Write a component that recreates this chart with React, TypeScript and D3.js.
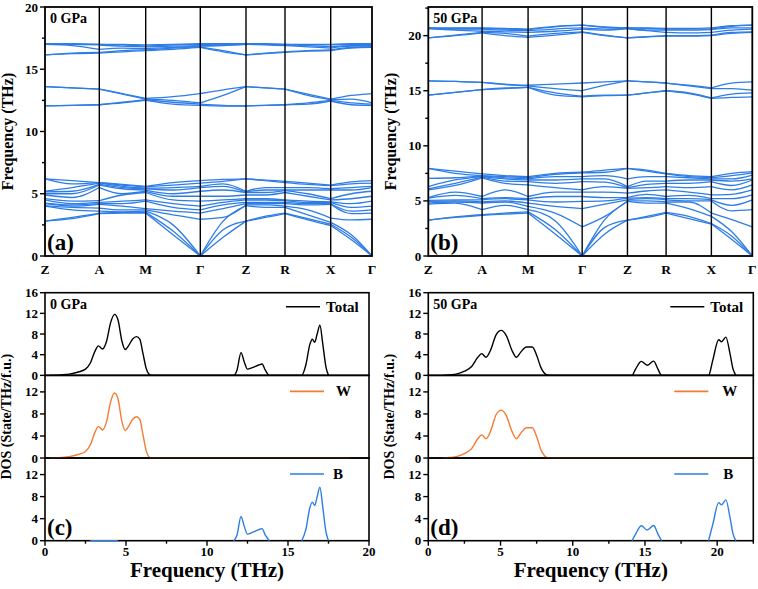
import React from 'react';
import * as d3 from 'd3';

const FONT = '"Liberation Serif", "Times New Roman", serif';
const BLUE = '#2e7de6';
const ORANGE = '#f47b30';

// high-symmetry path and its relative segment lengths
const kLabels = ['Z', 'A', 'M', 'Γ', 'Z', 'R', 'X', 'Γ'];
const kPath = [0, 54.3, 100.7, 155.3, 201, 240, 285.7, 327];

// bands, one row per sample point: Z, Z-A, A, A-M, M, M-Γ, Γ, Γ-Z, Z, Z-R, R, R-X, X, X-Γ, Γ
const low0 = [
  [2.8, 2.8, 4.0, 4.05, 4.2, 4.25, 4.5, 4.6, 4.9, 5.0, 5.15, 5.2, 6.2, 6.2],
  [3.0, 3.1, 3.7, 3.9, 4.0, 4.1, 4.2, 4.4, 4.7, 5.0, 5.2, 5.5, 5.8, 6.05],
  [3.4, 3.45, 3.6, 3.85, 4.15, 4.2, 4.3, 4.45, 5.5, 5.7, 5.75, 5.85, 5.9, 5.9],
  [3.45, 3.5, 3.55, 3.7, 4.0, 4.2, 4.4, 4.9, 5.0, 5.4, 5.5, 5.6, 5.7, 5.75],
  [3.45, 3.5, 3.6, 3.7, 3.8, 4.4, 4.5, 5.1, 5.2, 5.3, 5.4, 5.45, 5.55, 5.6],
  [1.7, 2.0, 2.5, 3.3, 3.6, 3.9, 4.2, 4.5, 4.8, 5.0, 5.3, 5.5, 5.7, 5.9],
  [0, 0, 0, 2.95, 3.45, 3.7, 4.0, 4.4, 4.8, 5.2, 5.5, 5.6, 5.85, 6.05],
  [1.5, 2.1, 2.8, 3.1, 3.8, 4.1, 4.3, 4.5, 4.8, 5.3, 5.6, 5.8, 6.0, 6.15],
  [2.8, 2.8, 4.05, 4.1, 4.2, 4.3, 4.5, 4.6, 4.9, 5.1, 5.15, 5.2, 6.2, 6.2],
  [3.1, 3.2, 3.9, 4.1, 4.2, 4.3, 4.5, 4.6, 4.9, 5.1, 5.3, 5.5, 6.05, 6.1],
  [3.4, 3.45, 3.9, 4.0, 4.2, 4.3, 4.45, 4.5, 5.1, 5.25, 5.3, 5.5, 5.9, 6.0],
  [2.9, 3.0, 3.3, 3.7, 4.1, 4.2, 4.3, 4.4, 4.8, 5.0, 5.3, 5.5, 5.75, 5.85],
  [2.45, 2.55, 2.7, 3.05, 4.15, 4.2, 4.3, 4.35, 4.5, 4.6, 5.3, 5.4, 5.65, 5.7],
  [1.3, 1.5, 1.7, 2.9, 3.4, 3.6, 3.9, 4.2, 4.6, 5.0, 5.3, 5.5, 5.8, 5.95],
  [0, 0, 0, 2.95, 3.45, 3.7, 4.0, 4.4, 4.8, 5.2, 5.5, 5.6, 5.85, 6.05],
];
const mid0 = [
  [12.05, 12.05, 13.6, 13.6],
  [12.1, 12.1, 13.5, 13.5],
  [12.15, 12.15, 13.4, 13.4],
  [12.3, 12.35, 13.0, 13.05],
  [12.5, 12.55, 12.6, 12.65],
  [12.2, 12.35, 12.5, 12.8],
  [12.1, 12.2, 12.3, 13.05],
  [12.05, 12.1, 12.9, 13.35],
  [12.05, 12.05, 13.6, 13.6],
  [12.1, 12.1, 13.5, 13.5],
  [12.15, 12.15, 13.4, 13.4],
  [12.2, 12.3, 12.9, 13.0],
  [12.45, 12.5, 12.55, 12.6],
  [12.15, 12.3, 12.6, 12.9],
  [12.1, 12.2, 12.3, 13.05],
];
const high0 = [
  [16.15, 16.15, 17.0, 17.0, 17.05, 17.05],
  [16.25, 16.3, 16.9, 17.0, 17.0, 17.05],
  [16.3, 16.35, 16.6, 16.95, 17.0, 17.0],
  [16.4, 16.5, 16.7, 16.85, 16.95, 17.0],
  [16.5, 16.55, 16.65, 16.8, 16.85, 16.95],
  [16.6, 16.7, 16.75, 16.85, 16.95, 17.0],
  [16.75, 16.8, 16.85, 16.9, 17.0, 17.05],
  [16.4, 16.5, 16.9, 16.95, 17.0, 17.05],
  [16.15, 16.15, 17.0, 17.0, 17.05, 17.05],
  [16.25, 16.3, 16.95, 17.0, 17.0, 17.05],
  [16.35, 16.4, 16.9, 16.95, 17.0, 17.0],
  [16.45, 16.5, 16.8, 16.9, 16.95, 17.0],
  [16.5, 16.55, 16.7, 16.8, 16.95, 17.0],
  [16.7, 16.75, 16.85, 16.9, 17.0, 17.05],
  [16.75, 16.8, 16.85, 16.9, 17.0, 17.05],
];

const low50 = [
  [3.25, 3.25, 4.7, 4.8, 4.95, 5.05, 5.25, 5.3, 6.0, 6.1, 6.3, 7.05, 7.95, 7.95],
  [3.5, 3.55, 4.8, 4.9, 5.0, 5.1, 5.5, 5.8, 6.4, 6.6, 6.9, 7.1, 7.5, 7.7],
  [3.7, 3.75, 4.2, 4.8, 4.9, 5.1, 5.2, 5.4, 7.1, 7.15, 7.2, 7.25, 7.3, 7.45],
  [3.8, 3.9, 4.6, 4.9, 5.0, 5.2, 5.3, 6.0, 6.6, 6.8, 7.0, 7.1, 7.2, 7.3],
  [3.9, 4.0, 4.2, 4.5, 4.8, 5.1, 5.2, 5.4, 6.45, 6.75, 6.9, 7.0, 7.1, 7.2],
  [2.0, 2.4, 3.2, 3.9, 4.5, 4.9, 5.4, 5.8, 6.2, 6.6, 6.9, 7.2, 7.4, 7.5],
  [0, 0, 0, 2.65, 4.3, 4.95, 5.4, 5.8, 6.0, 6.75, 7.0, 7.2, 7.55, 7.6],
  [2.0, 2.6, 3.3, 3.6, 4.7, 5.0, 5.3, 5.8, 6.3, 6.7, 7.0, 7.3, 7.6, 7.8],
  [3.25, 3.25, 4.95, 5.0, 5.1, 5.25, 5.3, 5.7, 6.15, 6.2, 6.3, 7.0, 7.95, 7.95],
  [3.5, 3.6, 4.8, 5.0, 5.2, 5.3, 5.6, 5.9, 6.2, 6.5, 6.8, 7.2, 7.7, 7.8],
  [3.9, 3.95, 4.8, 4.9, 5.1, 5.2, 5.4, 6.0, 6.3, 6.6, 6.8, 7.2, 7.45, 7.5],
  [3.4, 3.6, 4.3, 4.9, 5.0, 5.2, 5.5, 5.8, 6.2, 6.6, 6.9, 7.1, 7.2, 7.3],
  [2.9, 2.95, 3.6, 3.9, 5.0, 5.1, 5.2, 5.55, 6.3, 6.75, 6.9, 7.0, 7.1, 7.2],
  [1.5, 1.8, 2.2, 3.3, 4.1, 4.6, 5.2, 5.6, 6.0, 6.4, 6.8, 7.0, 7.3, 7.5],
  [0, 0, 0, 2.65, 4.2, 5.1, 5.55, 6.0, 6.45, 6.9, 7.0, 7.35, 7.55, 7.65],
];
const mid50 = [
  [14.6, 14.6, 15.9, 15.9],
  [14.85, 14.85, 15.85, 15.85],
  [15.1, 15.1, 15.75, 15.75],
  [15.2, 15.25, 15.55, 15.6],
  [15.3, 15.3, 15.45, 15.5],
  [14.6, 14.8, 15.2, 15.6],
  [14.45, 14.5, 15.0, 15.7],
  [14.55, 14.6, 15.5, 15.8],
  [14.6, 14.6, 15.9, 15.9],
  [14.8, 14.8, 15.8, 15.8],
  [15.0, 15.0, 15.7, 15.7],
  [14.75, 14.8, 15.45, 15.5],
  [14.3, 14.35, 15.2, 15.25],
  [14.4, 14.7, 15.2, 15.7],
  [14.45, 14.8, 15.05, 15.8],
];
const high50 = [
  [19.8, 19.8, 20.65, 20.65, 20.7, 20.7],
  [20.0, 20.05, 20.5, 20.6, 20.65, 20.7],
  [20.25, 20.3, 20.4, 20.6, 20.65, 20.7],
  [20.0, 20.2, 20.35, 20.5, 20.6, 20.65],
  [19.85, 19.95, 20.3, 20.45, 20.55, 20.6],
  [20.05, 20.2, 20.4, 20.6, 20.8, 20.85],
  [20.3, 20.35, 20.6, 20.7, 20.95, 20.95],
  [20.0, 20.05, 20.5, 20.6, 20.75, 20.8],
  [19.8, 19.8, 20.65, 20.65, 20.7, 20.7],
  [19.9, 19.9, 20.45, 20.5, 20.65, 20.7],
  [19.95, 20.0, 20.3, 20.5, 20.6, 20.65],
  [19.95, 20.0, 20.25, 20.5, 20.6, 20.65],
  [20.0, 20.05, 20.3, 20.55, 20.6, 20.7],
  [20.2, 20.3, 20.5, 20.7, 20.85, 20.9],
  [20.3, 20.35, 20.6, 20.7, 20.95, 20.95],
];

// phonon DOS [frequency THz, states/THz/f.u.]
const wDos0: [number, number][] = [
  [0.3, 0], [1, 0.1], [1.5, 0.25], [2, 0.6], [2.5, 1.2], [2.8, 2.4], [3.1, 4.8], [3.3, 5.7],
  [3.55, 5.1], [3.8, 6.6], [4.05, 10.2], [4.3, 11.8], [4.5, 10.8], [4.75, 6.6], [4.95, 5.0],
  [5.15, 5.7], [5.4, 7.0], [5.65, 7.5], [5.85, 7.0], [6.05, 4.2], [6.25, 1.3], [6.45, 0.15],
  [6.6, 0], [18.8, 0],
];
const bDos0: [number, number][][] = [
  [[2.8, 0], [4.5, 0]],
  [[11.65, 0], [11.85, 1.0], [12.1, 4.4], [12.3, 2.6], [12.5, 1.2], [12.8, 1.5], [13.2, 2.0],
   [13.4, 2.2], [13.6, 1.0], [13.85, 0]],
  [[15.85, 0], [16.1, 2.0], [16.35, 6.0], [16.5, 7.0], [16.65, 6.4], [16.8, 8.0], [16.97, 9.7],
   [17.15, 6.0], [17.35, 1.5], [17.5, 0]],
];
const wDos50: [number, number][] = [
  [1.0, 0], [1.5, 0.1], [2, 0.3], [2.5, 0.8], [3.0, 1.7], [3.4, 3.4], [3.7, 4.2], [4.0, 3.5],
  [4.3, 4.8], [4.7, 7.9], [5.05, 8.7], [5.4, 7.7], [5.8, 4.8], [6.1, 3.5], [6.4, 4.5],
  [6.8, 5.5], [7.2, 5.5], [7.5, 3.9], [7.8, 1.5], [8.2, 0.1], [8.4, 0], [22.4, 0],
];
const bDos50: [number, number][][] = [
  [[14.1, 0], [14.35, 1.2], [14.75, 2.7], [15.15, 1.95], [15.6, 2.75], [15.9, 1.2], [16.15, 0]],
  [[19.4, 0], [19.7, 3.0], [20.1, 6.9], [20.3, 6.5], [20.6, 7.4], [20.9, 4.0], [21.1, 1.2], [21.3, 0]],
];

// total = W part at low frequency + B part at high frequency
const totalOf = (w: [number, number][], b: [number, number][][]) =>
  [...w.filter(d => d[0] < 10), ...d3.merge<[number, number]>(b).filter(d => d[0] > 10)]
    .sort((p, q) => p[0] - q[0]);

const txt = { fontFamily: FONT, fontWeight: 'bold' as const };

function BandPanel({ left, right, top, bottom, fMax, groups, pressure, tag }: any) {
  const x = d3.scaleLinear().domain([0, kPath[kPath.length - 1]]).range([left, right]);
  const y = d3.scaleLinear().domain([0, fMax]).range([bottom, top]);
  const samples = kPath.flatMap((k, i) => (i === 0 ? [k] : [(kPath[i - 1] + k) / 2, k]));
  const line = d3.line<[number, number]>().x(d => x(d[0])).y(d => y(d[1])).curve(d3.curveMonotoneX);
  const paths: string[] = [];
  groups.forEach((g: number[][]) => {
    d3.transpose<number>(g).forEach(band => {
      for (let s = 0; s < kPath.length - 1; s++) {
        const pts = [0, 1, 2].map(j => [samples[2 * s + j], band[2 * s + j]] as [number, number]);
        paths.push(line(pts) || '');
      }
    });
  });
  const ticks = d3.range(0, fMax + 0.001, 2.5);
  return (
    <g>
      {paths.map((p, i) => (
        <path key={i} d={p} fill="none" stroke={BLUE} strokeWidth={1.3} />
      ))}
      {kPath.slice(1, -1).map((k, i) => (
        <line key={i} x1={x(k)} x2={x(k)} y1={top} y2={bottom} stroke="#000" strokeWidth={1.4} />
      ))}
      <rect x={left} y={top} width={right - left} height={bottom - top} fill="none" stroke="#000" strokeWidth={1.8} />
      {ticks.map(t => {
        const major = t % 5 === 0;
        return (
          <g key={t}>
            <line x1={left} x2={left - (major ? 5 : 3)} y1={y(t)} y2={y(t)} stroke="#000" strokeWidth={1.4} />
            {major && (
              <text x={left - 7} y={y(t) + 4.5} textAnchor="end" fontSize={13} {...txt}>{t}</text>
            )}
          </g>
        );
      })}
      {kPath.map((k, i) => (
        <text key={i} x={x(k)} y={bottom + 18} textAnchor="middle" fontSize={13.5} {...txt}>{kLabels[i]}</text>
      ))}
      <text transform={`translate(${left - 32},${(top + bottom) / 2}) rotate(-90)`} textAnchor="middle" fontSize={16} {...txt}>
        Frequency (THz)
      </text>
      <text x={left + 5} y={top + 16} fontSize={14} {...txt}>{pressure}</text>
      <text x={left + 2} y={bottom - 6} fontSize={23} {...txt}>{tag}</text>
    </g>
  );
}

function DosPanel({ left, right, top, bottom, xMax, w, b, pressure, tag, wText, bText }: any) {
  const x = d3.scaleLinear().domain([0, xMax]).range([left, right]);
  const h = (bottom - top) / 3;
  const subs = [
    { key: 'Total', max: 16, ticks: [0, 4, 8, 12, 16], color: '#000', series: [totalOf(w, b)], txtX: right - 43 },
    { key: 'W', max: 15, ticks: [0, 4, 8, 12], color: ORANGE, series: [w], txtX: right - wText },
    { key: 'B', max: 15, ticks: [0, 4, 8, 12], color: BLUE, series: b, txtX: right - bText },
  ];
  const xt = d3.range(0, xMax + 0.001, 2.5);
  return (
    <g>
      {subs.map((s, i) => {
        const y0 = top + h * i;
        const y = d3.scaleLinear().domain([0, s.max]).range([y0 + h, y0]);
        const line = d3.line<[number, number]>().x(d => x(d[0])).y(d => y(d[1])).curve(d3.curveMonotoneX);
        const legY = y0 + (i === 0 ? 14 : 16);
        const lx = i === 0 ? [right - 83, right - 49] : [right - 79, right - 45];
        return (
          <g key={s.key}>
            <rect x={left} y={y0} width={right - left} height={h} fill="none" stroke="#000" strokeWidth={1.6} />
            {s.ticks.map(t => (
              <g key={t}>
                <line x1={left} x2={left - 5} y1={y(t)} y2={y(t)} stroke="#000" strokeWidth={1.4} />
                <text x={left - 7} y={y(t) + 4.5} textAnchor="end" fontSize={13} {...txt}>{t}</text>
              </g>
            ))}
            {s.series.map((d: [number, number][], j: number) => (
              <path key={j} d={line(d) || ''} fill="none" stroke={s.color} strokeWidth={1.4} />
            ))}
            <line x1={lx[0]} x2={lx[1]} y1={legY} y2={legY} stroke={s.color} strokeWidth={1.6} />
            <text x={s.txtX} y={legY + 5} fontSize={15} {...txt}>{s.key}</text>
          </g>
        );
      })}
      {xt.map(t => {
        const major = t % 5 === 0;
        return (
          <g key={t}>
            <line x1={x(t)} x2={x(t)} y1={bottom} y2={bottom + (major ? 5 : 3)} stroke="#000" strokeWidth={1.4} />
            {major && (
              <text x={x(t)} y={bottom + 15} textAnchor="middle" fontSize={13} {...txt}>{t}</text>
            )}
          </g>
        );
      })}
      <text x={(left + right) / 2} y={bottom + 36} textAnchor="middle" fontSize={21} {...txt}>Frequency (THz)</text>
      <text transform={`translate(${left - 34},${(top + bottom) / 2}) rotate(-90)`} textAnchor="middle" fontSize={14} {...txt}>
        DOS (State/THz/f.u.)
      </text>
      <text x={left + 5} y={top + 16} fontSize={14} {...txt}>{pressure}</text>
      <text x={left + 2} y={bottom - 6} fontSize={23} {...txt}>{tag}</text>
    </g>
  );
}

export default function App() {
  return (
    <svg width={758} height={589} style={{ position: 'absolute', left: 0, top: 0, background: '#fff' }}>
      <BandPanel left={45} right={372} top={7} bottom={256} fMax={20} groups={[low0, mid0, high0]} pressure="0 GPa" tag="(a)" />
      <BandPanel left={428.3} right={752.3} top={7} bottom={256} fMax={22.6} groups={[low50, mid50, high50]} pressure="50 GPa" tag="(b)" />
      <DosPanel left={45} right={369} top={292.7} bottom={540.7} xMax={20} w={wDos0} b={bDos0} pressure="0 GPa" tag="(c)" wText={33} bText={36} />
      <DosPanel left={428.3} right={753.3} top={292.7} bottom={540.7} xMax={22.5} w={wDos50} b={bDos50} pressure="50 GPa" tag="(d)" wText={31} bText={30} />
    </svg>
  );
}
